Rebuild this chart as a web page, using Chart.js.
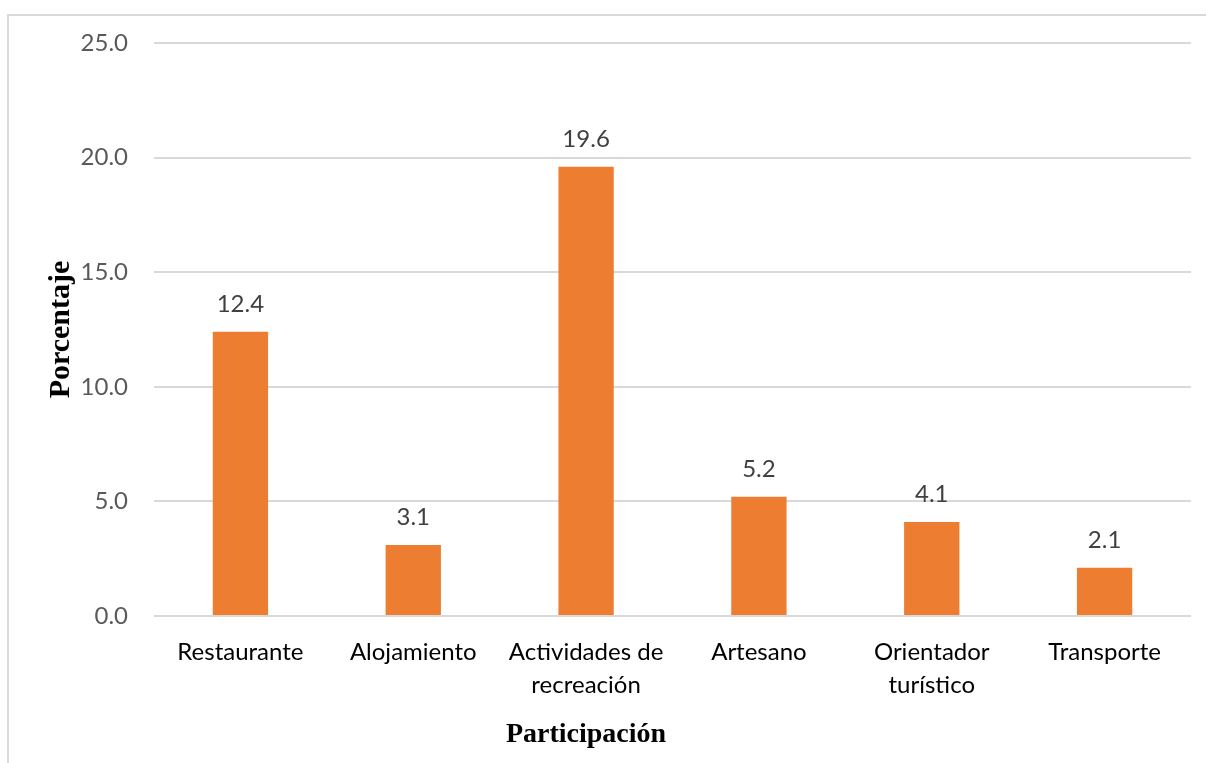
<!DOCTYPE html>
<html>
<head>
<meta charset="utf-8">
<script src="https://cdn.jsdelivr.net/npm/chart.js@4/dist/chart.umd.min.js"></script>
<style>
  html, body { margin: 0; padding: 0; background: #fff; overflow: hidden; }
  #wrap { position: relative; width: 1206px; height: 763px; }
  #frame { position: absolute; left: 7px; top: 14px; right: -2px; bottom: -2px;
    border-left: 2px solid #d9d9d9; border-top: 2px solid #d9d9d9; }
  canvas { position: absolute; left: 0; top: 0; }
</style>
</head>
<body>
<div id="wrap">
  <div id="frame"></div>
  <canvas id="chart" width="1206" height="763"></canvas>
</div>
<script>
// values
const categories = ["Restaurante", "Alojamiento", ["Actividades de", "recreación"], "Artesano", ["Orientador", "turístico"], "Transporte"];
const values = [12.4, 3.1, 19.6, 5.2, 4.1, 2.1];
const yTicks = [0, 5, 10, 15, 20, 25];
const xTitle = "Participación";
const yTitle = "Porcentaje";

const sansFamily = "Lato, 'Open Sans', sans-serif";
const serifFamily = "'Liberation Serif', 'Times New Roman', serif";
const tickFont = { family: sansFamily, size: 24, lineHeight: 1.375 };

// value labels above each bar + x title (off-centre in the original, so drawn by hand)
const extras = {
  id: "extras",
  afterDraw(chart) {
    const ctx = chart.ctx;
    const meta = chart.getDatasetMeta(0);
    ctx.save();
    ctx.font = `${tickFont.size}px ${sansFamily}`;
    ctx.fillStyle = "#404040";
    ctx.textAlign = "center";
    ctx.textBaseline = "alphabetic";
    meta.data.forEach((bar, i) => {
      ctx.fillText(values[i].toFixed(1), bar.x, bar.y - 20);
    });
    ctx.font = `bold 28px ${serifFamily}`;
    ctx.fillStyle = "#000";
    ctx.fillText(xTitle, 586, 742);
    ctx.restore();
  }
};

new Chart(document.getElementById("chart"), {
  type: "bar",
  data: {
    labels: categories,
    datasets: [{ data: values, backgroundColor: "#ED7D31", barPercentage: 0.32, categoryPercentage: 1 }]
  },
  options: {
    responsive: false,
    animation: false,
    layout: { padding: { top: 43, right: 15, left: 0, bottom: 0 } },
    plugins: { legend: { display: false }, tooltip: { enabled: false } },
    scales: {
      x: {
        grid: { display: false, drawTicks: false },
        border: { display: false },
        ticks: { color: "#000", font: tickFont, padding: 20, maxRotation: 0, autoSkip: false },
        afterFit(scale) { scale.height = 147; }
      },
      y: {
        min: 0, max: 25,
        afterBuildTicks(scale) { scale.ticks = yTicks.map(v => ({ value: v })); },
        grid: { color: "#d9d9d9", lineWidth: 2, drawTicks: false },
        border: { display: false },
        ticks: { color: "#595959", font: { family: sansFamily, size: 24 }, padding: 26, callback: v => v.toFixed(1) },
        title: { display: true, text: yTitle, color: "#000",
          font: { family: serifFamily, size: 30, weight: "bold" },
          padding: { top: 43, bottom: 0 } },
        afterFit(scale) { scale.width = 154; }
      }
    }
  },
  plugins: [extras]
});
</script>
</body>
</html>
